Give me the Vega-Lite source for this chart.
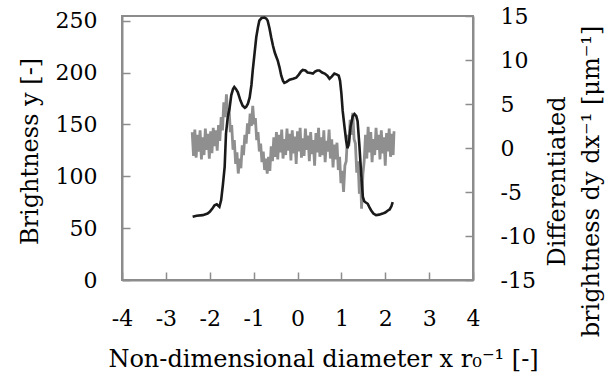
{
  "$schema": "https://vega.github.io/schema/vega-lite/v6.json",
  "width": 351,
  "height": 264,
  "autosize": "none",
  "padding": {"left": 122, "top": 16, "right": 136, "bottom": 101},
  "background": "white",
  "config": {
    "view": {"stroke": "#8c8c8c", "strokeWidth": 2},
    "font": "DejaVu Serif",
    "axis": {
      "grid": false,
      "labelFlush": false,
      "domainColor": "#8c8c8c",
      "domainWidth": 2,
      "tickColor": "#8c8c8c",
      "tickWidth": 1.5,
      "tickSize": -8,
      "labelFont": "DejaVu Serif",
      "labelFontSize": 22,
      "labelColor": "#000000",
      "titleFont": "DejaVu Serif",
      "titleFontSize": 24,
      "titleFontWeight": "normal",
      "titleColor": "#000000"
    }
  },
  "datasets": {
    "deriv": [
      {"x": -2.40, "d": 1.8}, {"x": -2.37, "d": -0.9}, {"x": -2.34, "d": 2.1}, {"x": -2.31, "d": -1.1},
      {"x": -2.28, "d": 1.5}, {"x": -2.25, "d": -0.4}, {"x": -2.22, "d": 2.0}, {"x": -2.19, "d": -1.3},
      {"x": -2.16, "d": 1.2}, {"x": -2.13, "d": -0.8}, {"x": -2.10, "d": 2.2}, {"x": -2.07, "d": -0.2},
      {"x": -2.04, "d": 1.6}, {"x": -2.01, "d": -1.2}, {"x": -1.98, "d": 1.9}, {"x": -1.95, "d": -0.6},
      {"x": -1.92, "d": 2.3}, {"x": -1.89, "d": 0.2}, {"x": -1.86, "d": 2.0}, {"x": -1.83, "d": -0.3},
      {"x": -1.80, "d": 2.6}, {"x": -1.77, "d": 0.8}, {"x": -1.74, "d": 3.5}, {"x": -1.71, "d": 2.0},
      {"x": -1.68, "d": 5.2}, {"x": -1.65, "d": 3.5}, {"x": -1.62, "d": 6.1}, {"x": -1.59, "d": 3.8},
      {"x": -1.56, "d": 4.5}, {"x": -1.53, "d": 1.8}, {"x": -1.50, "d": 2.6}, {"x": -1.47, "d": -0.2},
      {"x": -1.44, "d": 0.9}, {"x": -1.41, "d": -1.8}, {"x": -1.38, "d": -0.5}, {"x": -1.35, "d": -2.9},
      {"x": -1.32, "d": -1.2}, {"x": -1.29, "d": -2.3}, {"x": -1.26, "d": 0.3}, {"x": -1.23, "d": -0.8},
      {"x": -1.20, "d": 1.5}, {"x": -1.17, "d": 0.5}, {"x": -1.14, "d": 2.8}, {"x": -1.11, "d": 1.6},
      {"x": -1.08, "d": 3.9}, {"x": -1.05, "d": 2.5}, {"x": -1.02, "d": 4.8}, {"x": -0.99, "d": 2.7},
      {"x": -0.96, "d": 3.4}, {"x": -0.93, "d": 0.9}, {"x": -0.90, "d": 1.8}, {"x": -0.87, "d": -0.4},
      {"x": -0.84, "d": 0.5}, {"x": -0.81, "d": -1.6}, {"x": -0.78, "d": -0.4}, {"x": -0.75, "d": -2.5},
      {"x": -0.72, "d": -1.2}, {"x": -0.69, "d": -2.9}, {"x": -0.66, "d": -1.0}, {"x": -0.63, "d": -2.6},
      {"x": -0.60, "d": 0.2}, {"x": -0.57, "d": -1.5}, {"x": -0.54, "d": 1.2}, {"x": -0.51, "d": -1.0},
      {"x": -0.48, "d": 1.8}, {"x": -0.45, "d": -1.3}, {"x": -0.42, "d": 1.5}, {"x": -0.39, "d": -0.5},
      {"x": -0.36, "d": 2.1}, {"x": -0.33, "d": -1.2}, {"x": -0.30, "d": 1.0}, {"x": -0.27, "d": -0.8},
      {"x": -0.24, "d": 2.2}, {"x": -0.21, "d": -0.3}, {"x": -0.18, "d": 1.6}, {"x": -0.15, "d": -1.4},
      {"x": -0.12, "d": 2.0}, {"x": -0.09, "d": -0.6}, {"x": -0.06, "d": 1.3}, {"x": -0.03, "d": -1.8},
      {"x": 0.00, "d": 1.9}, {"x": 0.03, "d": -0.4}, {"x": 0.06, "d": 2.3}, {"x": 0.09, "d": -1.1},
      {"x": 0.12, "d": 1.1}, {"x": 0.15, "d": -0.9}, {"x": 0.18, "d": 2.2}, {"x": 0.21, "d": -0.2},
      {"x": 0.24, "d": 1.4}, {"x": 0.27, "d": -1.5}, {"x": 0.30, "d": 1.8}, {"x": 0.33, "d": -0.7},
      {"x": 0.36, "d": 0.9}, {"x": 0.39, "d": -2.0}, {"x": 0.42, "d": 1.7}, {"x": 0.45, "d": -0.5},
      {"x": 0.48, "d": 2.3}, {"x": 0.51, "d": -1.0}, {"x": 0.54, "d": 1.2}, {"x": 0.57, "d": -0.8},
      {"x": 0.60, "d": 2.0}, {"x": 0.63, "d": -1.6}, {"x": 0.66, "d": 0.8}, {"x": 0.69, "d": -0.4},
      {"x": 0.72, "d": 2.1}, {"x": 0.75, "d": -1.2}, {"x": 0.78, "d": 1.0}, {"x": 0.81, "d": -2.2},
      {"x": 0.84, "d": 0.4}, {"x": 0.87, "d": -1.3}, {"x": 0.90, "d": 0.6}, {"x": 0.93, "d": -2.5},
      {"x": 0.96, "d": -1.0}, {"x": 0.99, "d": -4.0}, {"x": 1.02, "d": -2.6}, {"x": 1.05, "d": -5.0},
      {"x": 1.08, "d": -2.0}, {"x": 1.11, "d": -1.5}, {"x": 1.14, "d": 1.5}, {"x": 1.17, "d": 0.2},
      {"x": 1.20, "d": 3.2}, {"x": 1.23, "d": 1.5}, {"x": 1.26, "d": 4.0}, {"x": 1.29, "d": 1.0},
      {"x": 1.32, "d": 0.5}, {"x": 1.35, "d": -2.8}, {"x": 1.38, "d": -1.5}, {"x": 1.41, "d": -5.2},
      {"x": 1.44, "d": -3.5}, {"x": 1.46, "d": -6.9}, {"x": 1.49, "d": -3.0}, {"x": 1.52, "d": -1.5},
      {"x": 1.55, "d": 1.5}, {"x": 1.58, "d": -1.2}, {"x": 1.61, "d": 2.4}, {"x": 1.64, "d": -0.5},
      {"x": 1.67, "d": 1.8}, {"x": 1.70, "d": -1.6}, {"x": 1.73, "d": 1.0}, {"x": 1.76, "d": -0.8},
      {"x": 1.79, "d": 2.3}, {"x": 1.82, "d": -0.2}, {"x": 1.85, "d": 1.5}, {"x": 1.88, "d": -1.3},
      {"x": 1.91, "d": 2.0}, {"x": 1.94, "d": -0.6}, {"x": 1.97, "d": 1.2}, {"x": 2.00, "d": -2.0},
      {"x": 2.03, "d": 1.7}, {"x": 2.06, "d": -0.4}, {"x": 2.09, "d": 2.2}, {"x": 2.12, "d": -1.0},
      {"x": 2.15, "d": 1.6}, {"x": 2.18, "d": -0.8}, {"x": 2.20, "d": 1.9}
    ],
    "bright": [
      {"x": -2.39, "y": 61}, {"x": -2.30, "y": 62}, {"x": -2.16, "y": 62.5}, {"x": -2.05, "y": 64},
      {"x": -2.00, "y": 65.7}, {"x": -1.94, "y": 69}, {"x": -1.89, "y": 72}, {"x": -1.84, "y": 73},
      {"x": -1.78, "y": 70.5}, {"x": -1.74, "y": 77}, {"x": -1.70, "y": 92}, {"x": -1.66, "y": 109},
      {"x": -1.63, "y": 141}, {"x": -1.59, "y": 157}, {"x": -1.55, "y": 165}, {"x": -1.51, "y": 178},
      {"x": -1.47, "y": 184}, {"x": -1.44, "y": 186}, {"x": -1.40, "y": 184}, {"x": -1.36, "y": 181},
      {"x": -1.30, "y": 173}, {"x": -1.25, "y": 168}, {"x": -1.20, "y": 166}, {"x": -1.17, "y": 167},
      {"x": -1.13, "y": 170}, {"x": -1.09, "y": 176}, {"x": -1.05, "y": 188}, {"x": -1.02, "y": 202},
      {"x": -0.98, "y": 218}, {"x": -0.94, "y": 234}, {"x": -0.90, "y": 244}, {"x": -0.87, "y": 250},
      {"x": -0.82, "y": 252.5}, {"x": -0.75, "y": 253}, {"x": -0.71, "y": 252}, {"x": -0.68, "y": 250},
      {"x": -0.64, "y": 243}, {"x": -0.60, "y": 234}, {"x": -0.56, "y": 226}, {"x": -0.52, "y": 219.5},
      {"x": -0.49, "y": 216}, {"x": -0.45, "y": 211.5}, {"x": -0.41, "y": 205}, {"x": -0.37, "y": 197},
      {"x": -0.33, "y": 192}, {"x": -0.30, "y": 190}, {"x": -0.25, "y": 191}, {"x": -0.18, "y": 193},
      {"x": -0.10, "y": 194}, {"x": -0.03, "y": 195}, {"x": 0.03, "y": 198}, {"x": 0.08, "y": 201},
      {"x": 0.12, "y": 202.5}, {"x": 0.18, "y": 202}, {"x": 0.23, "y": 200}, {"x": 0.30, "y": 199.5},
      {"x": 0.35, "y": 199}, {"x": 0.40, "y": 201}, {"x": 0.45, "y": 202}, {"x": 0.50, "y": 202},
      {"x": 0.56, "y": 200}, {"x": 0.62, "y": 199}, {"x": 0.68, "y": 197}, {"x": 0.73, "y": 194},
      {"x": 0.78, "y": 196}, {"x": 0.84, "y": 199}, {"x": 0.90, "y": 198}, {"x": 0.94, "y": 197},
      {"x": 0.97, "y": 192}, {"x": 1.00, "y": 180}, {"x": 1.03, "y": 163}, {"x": 1.07, "y": 148},
      {"x": 1.11, "y": 134}, {"x": 1.14, "y": 127}, {"x": 1.17, "y": 132}, {"x": 1.21, "y": 148},
      {"x": 1.26, "y": 158}, {"x": 1.30, "y": 160}, {"x": 1.34, "y": 158}, {"x": 1.37, "y": 153},
      {"x": 1.41, "y": 130}, {"x": 1.45, "y": 103}, {"x": 1.49, "y": 80}, {"x": 1.52, "y": 76},
      {"x": 1.55, "y": 75}, {"x": 1.60, "y": 73.5}, {"x": 1.64, "y": 70}, {"x": 1.68, "y": 67},
      {"x": 1.73, "y": 64}, {"x": 1.79, "y": 62.5}, {"x": 1.86, "y": 63}, {"x": 1.94, "y": 64},
      {"x": 2.00, "y": 65}, {"x": 2.06, "y": 67}, {"x": 2.10, "y": 68}, {"x": 2.14, "y": 71},
      {"x": 2.17, "y": 75}
    ]
  },
  "layer": [
    {
      "data": {"name": "deriv"},
      "mark": {"type": "line", "color": "#8f8f8f", "strokeWidth": 2.8},
      "encoding": {
        "x": {
          "field": "x", "type": "quantitative",
          "scale": {"domain": [-4, 4], "nice": false},
          "axis": {
            "values": [-4, -3, -2, -1, 0, 1, 2, 3, 4],
            "labelExpr": "'' + datum.value",
            "labelFlush": false,
            "labelPadding": 36,
            "title": "Non-dimensional diameter x r₀⁻¹ [-]",
            "titleX": 201,
            "titleY": 86,
            "titleAlign": "center",
            "titleBaseline": "alphabetic"
          }
        },
        "y": {
          "field": "d", "type": "quantitative",
          "scale": {"domain": [-15, 15], "nice": false, "zero": false},
          "axis": {
            "orient": "right",
            "values": [-15, -10, -5, 0, 5, 10, 15],
            "labelExpr": "'' + datum.value",
            "labelPadding": 35,
            "title": ["Differentiated", "brightness dy dx⁻¹ [μm⁻¹]"],
            "titleAngle": -90,
            "titleX": 91,
            "titleY": 165,
            "titleAlign": "center",
            "titleBaseline": "alphabetic",
            "titleLineHeight": 34
          }
        }
      }
    },
    {
      "data": {"name": "bright"},
      "mark": {"type": "line", "color": "#1a1a1a", "strokeWidth": 2.6},
      "encoding": {
        "x": {"field": "x", "type": "quantitative"},
        "y": {
          "field": "y", "type": "quantitative",
          "scale": {"domain": [0, 254.5], "nice": false},
          "axis": {
            "orient": "left",
            "values": [0, 50, 100, 150, 200, 250],
            "labelPadding": 33,
            "title": "Brightness y [-]",
            "titleAngle": -90,
            "titleX": -85,
            "titleY": 135,
            "titleAlign": "center",
            "titleBaseline": "alphabetic"
          }
        }
      }
    }
  ],
  "resolve": {"scale": {"y": "independent"}}
}
